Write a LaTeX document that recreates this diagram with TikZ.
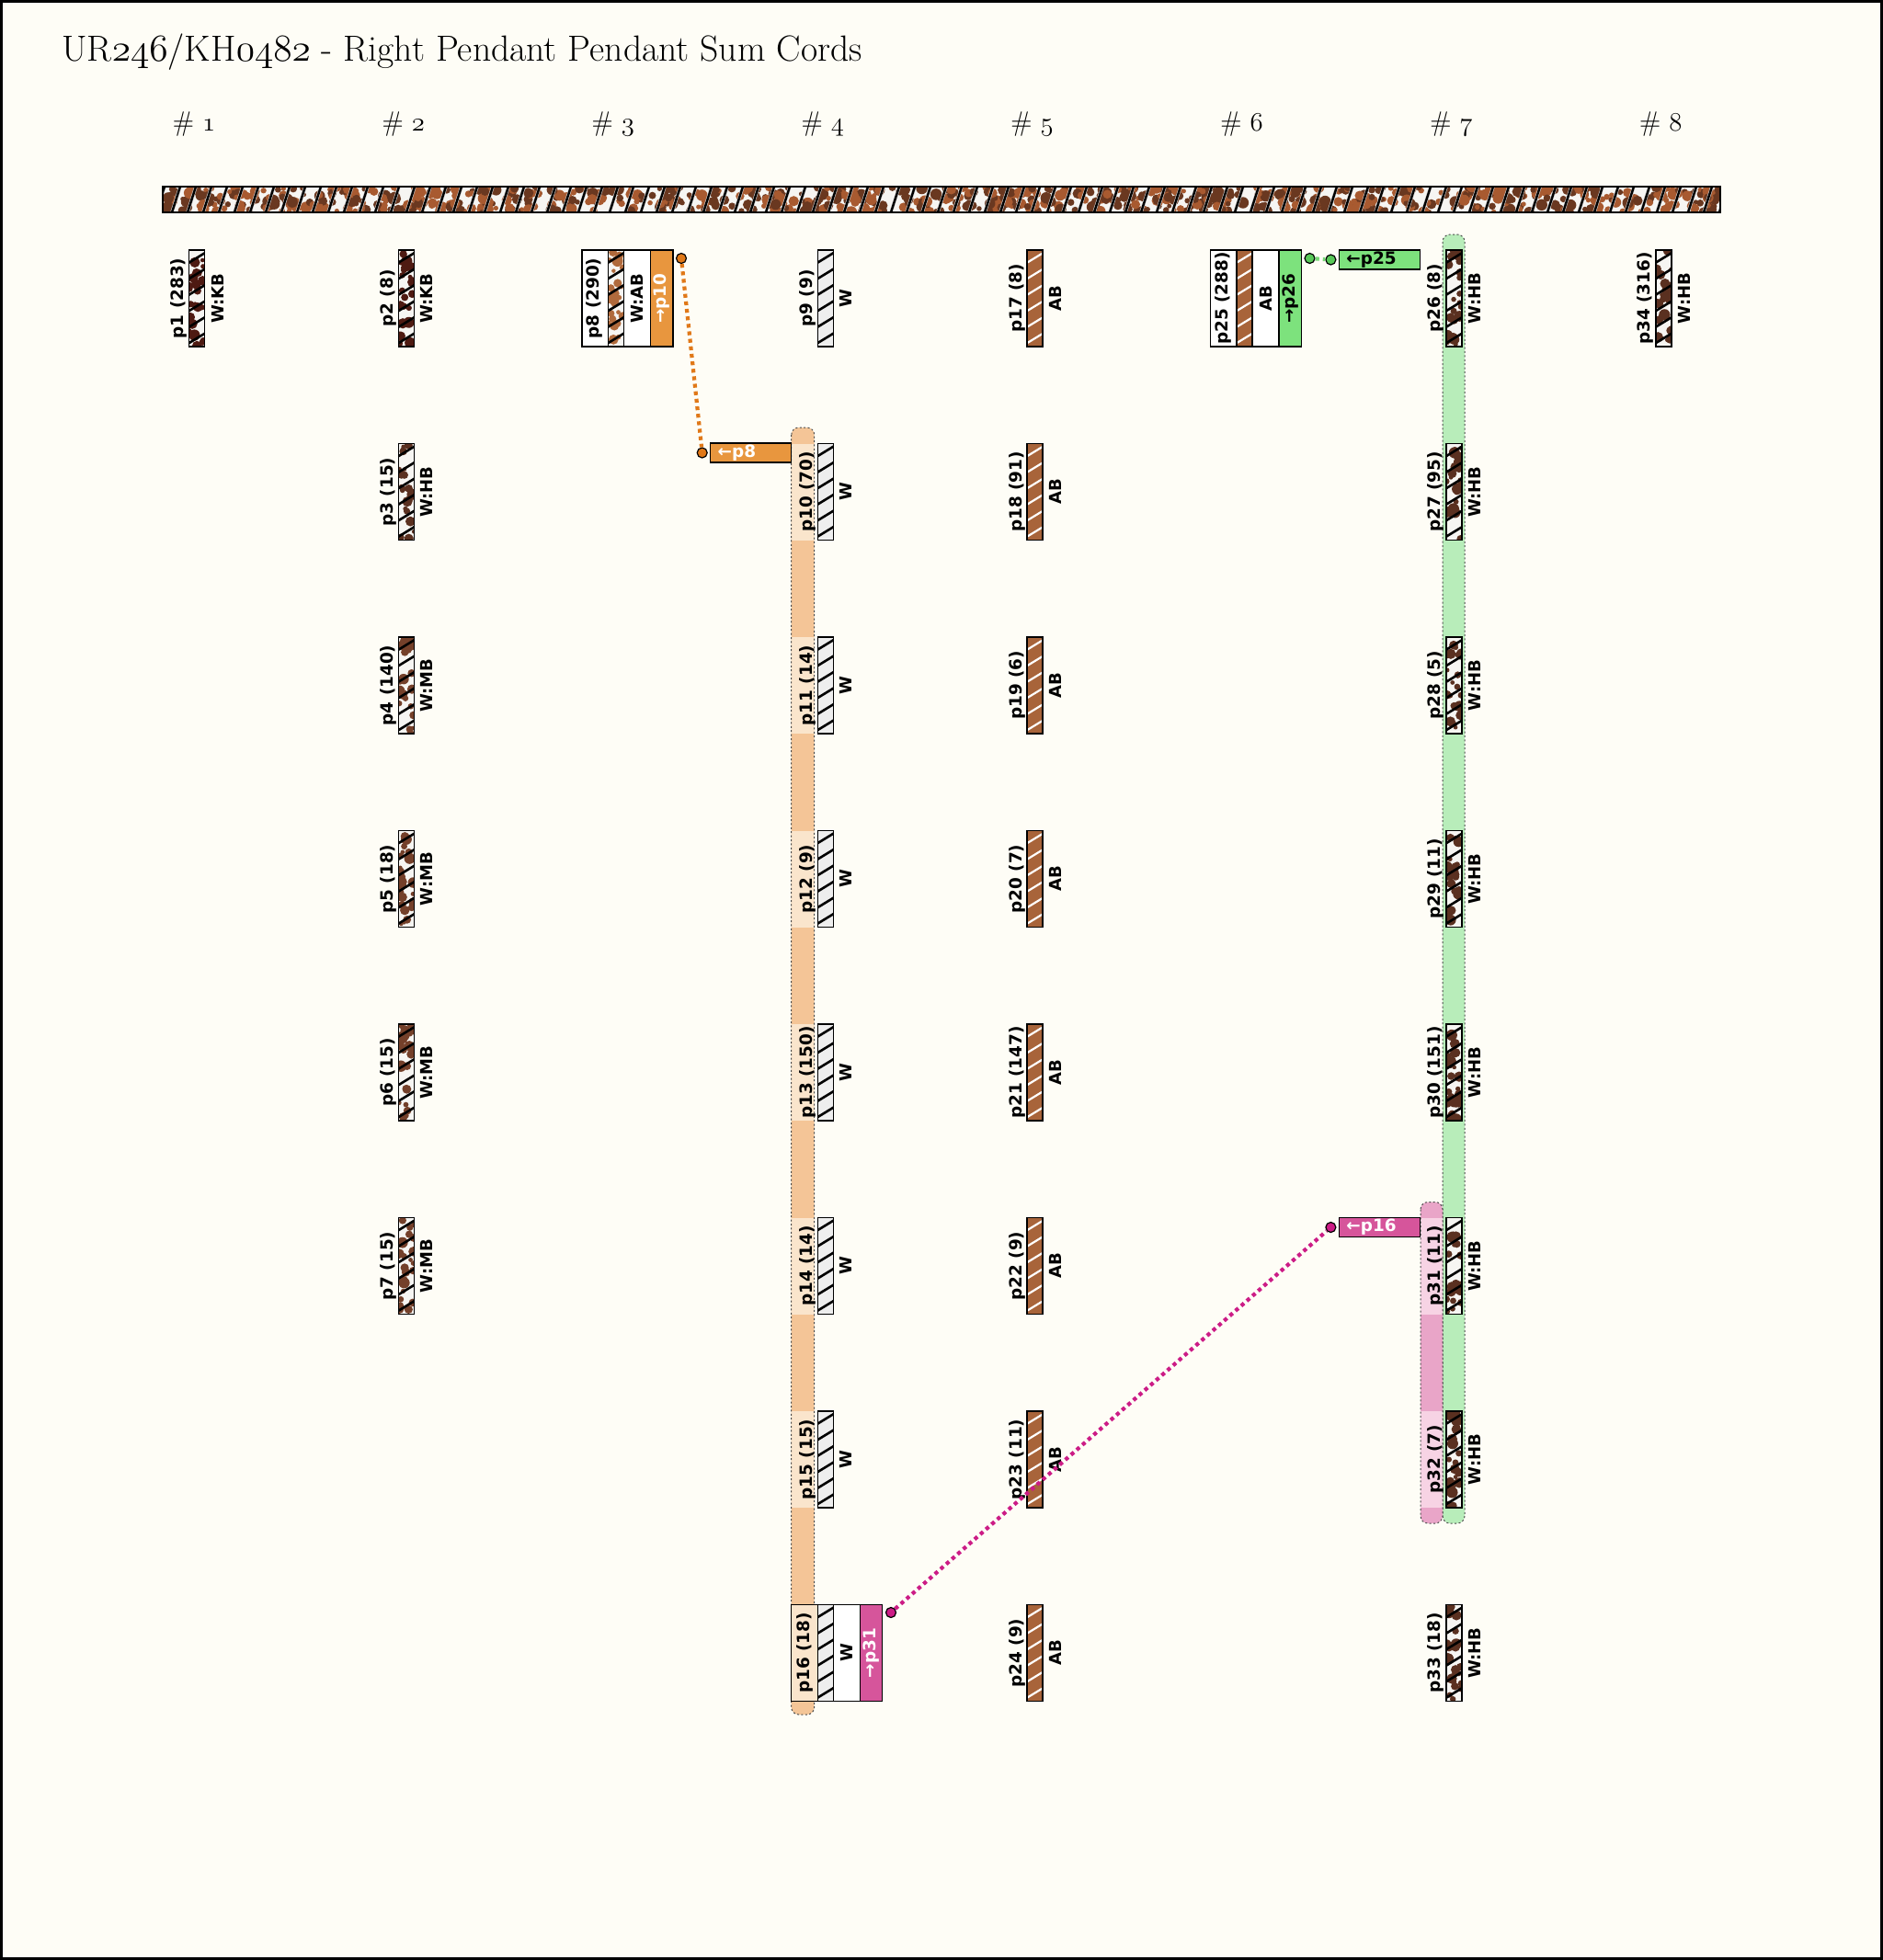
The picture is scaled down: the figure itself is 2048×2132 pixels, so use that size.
\documentclass[tikz,border=0pt]{standalone}
\usepackage{fontspec}
\newfontfamily\labfont{DejaVu Sans}
\newcommand\osn[1]{{\fontencoding{OML}\fontfamily{cmm}\fontseries{m}\fontshape{it}\selectfont #1}}
\definecolor{bg}{HTML}{FEFDF6}
\definecolor{wfill}{HTML}{EEEEEE}
\definecolor{mfill}{HTML}{F6F5F2}
\definecolor{kb}{HTML}{4E1A12}
\definecolor{hb}{HTML}{5A3020}
\definecolor{mb}{HTML}{74402A}
\definecolor{abspot}{HTML}{B06A3C}
\definecolor{abfill}{HTML}{A8643A}
\definecolor{cordA}{HTML}{A85A30}
\definecolor{cordB}{HTML}{6A3820}
\definecolor{orangec}{HTML}{E8963E}
\definecolor{oranged}{HTML}{E07818}
\definecolor{greenc}{HTML}{7DE27D}
\definecolor{greend}{HTML}{58C858}
\definecolor{greenl}{HTML}{76D876}
\definecolor{magc}{HTML}{D6559B}
\definecolor{magd}{HTML}{CC1C86}
\definecolor{peach}{HTML}{F4C597}
\definecolor{peachl}{HTML}{FAE5CC}
\definecolor{greenb}{HTML}{B8EDBA}
\definecolor{pinkb}{HTML}{E9A5C8}
\definecolor{pinkl}{HTML}{F7D3E4}
\tikzset{
  lab/.style={font=\labfont\bfseries\fontsize{9.2}{10}\selectfont, inner sep=0pt},
  labb/.style={font=\labfont\bfseries\fontsize{9}{10}\selectfont, inner sep=0pt},
  hdr/.style={anchor=base, font=\fontsize{15}{17}\selectfont, inner sep=0pt},
  stripb/.style={draw=black, line width=0.7pt},
  boxb/.style={draw=black, line width=0.7pt},
  bandb/.style={draw=black!70, line width=0.5pt, dash pattern=on 1pt off 1.2pt},
  dotn/.style={circle, draw=black, line width=0.6pt, minimum size=5.5pt, inner sep=0pt},
  tbox/.style={draw=black, line width=0.7pt, minimum height=10.5pt, text width=36pt,
     align=left, inner xsep=4pt, inner ysep=0pt, font=\labfont\bfseries\fontsize{9.2}{10}\selectfont},
  sumline/.style={line width=2.1pt, dash pattern=on 2.1pt off 2pt},
}
% strips: #1 centre x, #2 top
\newcommand\stripW[2]{%
  \begin{scope}
    \clip (#1-8.5,#2) rectangle (#1+8.5,#2+105);
    \fill[wfill] (#1-8.5,#2) rectangle (#1+8.5,#2+105);
    \foreach \k in {0,...,6}
      \draw[line width=1.3pt,black] (#1-9,#2+14+\k*17.5) -- (#1+9,#2+3+\k*17.5);
  \end{scope}
  \draw[stripb] (#1-8.5,#2) rectangle (#1+8.5,#2+105);
}
\newcommand\stripAB[2]{%
  \begin{scope}
    \clip (#1-8.5,#2) rectangle (#1+8.5,#2+105);
    \fill[abfill] (#1-8.5,#2) rectangle (#1+8.5,#2+105);
    \foreach \k in {0,...,6}
      \draw[line width=1.1pt,white] (#1-9,#2+14+\k*17.5) -- (#1+9,#2+3+\k*17.5);
  \end{scope}
  \draw[stripb] (#1-8.5,#2) rectangle (#1+8.5,#2+105);
}
\newcommand\stripM[3]{%
  \begin{scope}
    \clip (#1-8.5,#2) rectangle (#1+8.5,#2+105);
    \fill[mfill] (#1-8.5,#2) rectangle (#1+8.5,#2+105);
    \foreach \i in {1,...,24}{
      \pgfmathsetmacro\rx{#1-8.5+17*rnd}
      \pgfmathsetmacro\ry{#2+105*rnd}
      \pgfmathsetmacro\rr{1.1+2.0*rnd}
      \fill[#3] (\rx,\ry) circle[radius=\rr pt];
    }
    \foreach \k in {0,...,6}
      \draw[line width=1.3pt,black] (#1-9,#2+14+\k*17.5) -- (#1+9,#2+3+\k*17.5);
  \end{scope}
  \draw[stripb] (#1-8.5,#2) rectangle (#1+8.5,#2+105);
}
% pendants: #1 x, #2 top, #3 id, #4 label, #5 code
\newcommand\pendM[6]{%
  \stripM{#1}{#2}{#6}
  \node[lab,rotate=90] (#3l) at (#1-19.5,#2+52.5) {#4};
  \node[labb,rotate=90] (#3c) at (#1+22.5,#2+52.5) {#5};
}
\newcommand\pendW[4]{%
  \stripW{#1}{#2}
  \node[lab,rotate=90] (#3l) at (#1-19.5,#2+52.5) {#4};
  \node[labb,rotate=90] (#3c) at (#1+22.5,#2+52.5) {W};
}
\newcommand\pendAB[4]{%
  \stripAB{#1}{#2}
  \node[lab,rotate=90] (#3l) at (#1-19.5,#2+52.5) {#4};
  \node[labb,rotate=90] (#3c) at (#1+22.5,#2+52.5) {AB};
}
\begin{document}
\begin{tikzpicture}[x=0.5pt,y=-0.5pt]
\pgfmathsetseed{4242}
\useasboundingbox (0,0) rectangle (2048,2132);
\fill[bg] (0,0) rectangle (2048,2132);
\draw[line width=1.2pt] (1.5,1.5) rectangle (2046.5,2130.5);

\node[anchor=base west, inner sep=0pt, font=\fontsize{19.8}{24}\selectfont] (title) at (67,66)
  {UR\osn{246}/KH\osn{0482} - Right Pendant Pendant Sum Cords};

\foreach \k/\x in {1/211,2/438.9,3/666.8,4/894.7,5/1122.6,6/1350.5,7/1578.4,8/1806.3}
  \node[hdr] (h\k) at (\x,142) {\# \osn{\k}};

% top cord
\begin{scope}
  \clip (177,203) rectangle (1871,231);
  \fill[mfill] (177,203) rectangle (1871,231);
  \foreach \i in {1,...,900}{
    \pgfmathsetmacro\rx{177+1694*rnd}
    \pgfmathsetmacro\ry{203+28*rnd}
    \pgfmathsetmacro\rr{1.2+2.0*rnd}
    \ifodd\i
      \fill[cordA] (\rx,\ry) circle[radius=\rr pt];
    \else
      \fill[cordB] (\rx,\ry) circle[radius=\rr pt];
    \fi
  }
  \foreach \x in {170,187,...,1880}{
    \draw[line width=1.8pt,white!80!black] (\x,231) -- (\x+9,203);
    \draw[line width=1.2pt,black] (\x,231) -- (\x+9,203);
  }
\end{scope}
\draw[line width=1.2pt] (177,203) rectangle (1871,231);

% bands
\fill[peach, rounded corners=4pt] (860.7,465) rectangle (885.7,1865);
\foreach \r in {482.5,693,903.5,1114,1324.5,1535}
  \fill[peachl] (860.7,\r) rectangle (885.7,\r+105);
\draw[bandb, rounded corners=4pt] (860.7,465) rectangle (885.7,1865);

\fill[greenb, rounded corners=4pt] (1569,255) rectangle (1593,1657);
\draw[bandb, rounded corners=4pt] (1569,255) rectangle (1593,1657);

\fill[pinkb, rounded corners=4pt] (1545,1307.5) rectangle (1569,1657);
\foreach \r in {1324.5,1535}
  \fill[pinkl] (1545,\r) rectangle (1569,\r+105);
\draw[bandb, rounded corners=4pt] (1545,1307.5) rectangle (1569,1657);

% column 1
\pendM{214}{272}{p1}{p1 (283)}{W:KB}{kb}
% column 2
\pendM{441.9}{272}{p2}{p2 (8)}{W:KB}{kb}
\pendM{441.9}{482.5}{p3}{p3 (15)}{W:HB}{hb}
\pendM{441.9}{693}{p4}{p4 (140)}{W:MB}{mb}
\pendM{441.9}{903.5}{p5}{p5 (18)}{W:MB}{mb}
\pendM{441.9}{1114}{p6}{p6 (15)}{W:MB}{mb}
\pendM{441.9}{1324.5}{p7}{p7 (15)}{W:MB}{mb}
% column 3: p8 sum box
\fill[white] (632.8,272) rectangle (707.3,377);
\fill[orangec] (707.3,272) rectangle (731.8,377);
\stripM{669.8}{272}{abspot}
\draw[boxb] (632.8,272) rectangle (731.8,377);
\draw[boxb] (707.3,272) -- (707.3,377);
\node[lab,rotate=90] (p8l) at (646.8,324.5) {p8 (290)};
\node[labb,rotate=90] (p8c) at (692.5,324.5) {W:AB};
\node[lab,rotate=90,text=white] (p8s) at (719.5,324.5) {→p10};
% column 4
\pendW{897.7}{272}{p9}{p9 (9)}
\pendW{897.7}{482.5}{p10}{p10 (70)}
\pendW{897.7}{693}{p11}{p11 (14)}
\pendW{897.7}{903.5}{p12}{p12 (9)}
\pendW{897.7}{1114}{p13}{p13 (150)}
\pendW{897.7}{1324.5}{p14}{p14 (14)}
\pendW{897.7}{1535}{p15}{p15 (15)}
% p16 sum box
\fill[peachl] (860.7,1745.5) rectangle (889.2,1850.5);
\fill[white] (906.2,1745.5) rectangle (935.2,1850.5);
\fill[magc] (935.2,1745.5) rectangle (959.7,1850.5);
\stripW{897.7}{1745.5}
\draw[boxb] (860.7,1745.5) rectangle (959.7,1850.5);
\draw[boxb] (935.2,1745.5) -- (935.2,1850.5);
\node[lab,rotate=90] (p16l) at (875,1798) {p16 (18)};
\node[labb,rotate=90] (p16c) at (920.7,1798) {W};
\node[lab,rotate=90,text=white] (p16s) at (947.5,1798) {→p31};
% column 5
\pendAB{1125.6}{272}{p17}{p17 (8)}
\pendAB{1125.6}{482.5}{p18}{p18 (91)}
\pendAB{1125.6}{693}{p19}{p19 (6)}
\pendAB{1125.6}{903.5}{p20}{p20 (7)}
\pendAB{1125.6}{1114}{p21}{p21 (147)}
\pendAB{1125.6}{1324.5}{p22}{p22 (9)}
\pendAB{1125.6}{1535}{p23}{p23 (11)}
\pendAB{1125.6}{1745.5}{p24}{p24 (9)}
% column 6: p25 sum box
\fill[white] (1316.5,272) rectangle (1391,377);
\fill[greenc] (1391,272) rectangle (1415.5,377);
\stripAB{1353.5}{272}
\draw[boxb] (1316.5,272) rectangle (1415.5,377);
\draw[boxb] (1391,272) -- (1391,377);
\node[lab,rotate=90] (p25l) at (1330.5,324.5) {p25 (288)};
\node[labb,rotate=90] (p25c) at (1376.5,324.5) {AB};
\node[lab,rotate=90] (p25s) at (1403.2,324.5) {→p26};
% column 7
\pendM{1581.4}{272}{p26}{p26 (8)}{W:HB}{hb}
\pendM{1581.4}{482.5}{p27}{p27 (95)}{W:HB}{hb}
\pendM{1581.4}{693}{p28}{p28 (5)}{W:HB}{hb}
\pendM{1581.4}{903.5}{p29}{p29 (11)}{W:HB}{hb}
\pendM{1581.4}{1114}{p30}{p30 (151)}{W:HB}{hb}
\pendM{1581.4}{1324.5}{p31}{p31 (11)}{W:HB}{hb}
\pendM{1581.4}{1535}{p32}{p32 (7)}{W:HB}{hb}
\pendM{1581.4}{1745.5}{p33}{p33 (18)}{W:HB}{hb}
% column 8
\pendM{1809.3}{272}{p34}{p34 (316)}{W:HB}{hb}

% target boxes
\node[tbox, fill=orangec, text=white] (t8) at (816.7,492.5) {←p8};
\node[tbox, fill=greenc, text=black] (t25) at (1500.4,282.5) {←p25};
\node[tbox, fill=magc, text=white] (t16) at (1500.4,1335) {←p16};

% dots and connectors
\node[dotn, fill=oranged] (s8) at (741,281) {};
\node[dotn, fill=oranged] (e8) at (763.7,492.5) {};
\draw[sumline, oranged] (s8) -- (e8);
\node[dotn, fill=greend] (s25) at (1424.5,281) {};
\node[dotn, fill=greend] (e25) at (1447.4,282.5) {};
\draw[sumline, greenl] (s25) -- (e25);
\node[dotn, fill=magd] (s16) at (969,1754) {};
\node[dotn, fill=magd] (e16) at (1447.4,1335) {};
\draw[sumline, magd] (s16) -- (e16);
\end{tikzpicture}
\end{document}
